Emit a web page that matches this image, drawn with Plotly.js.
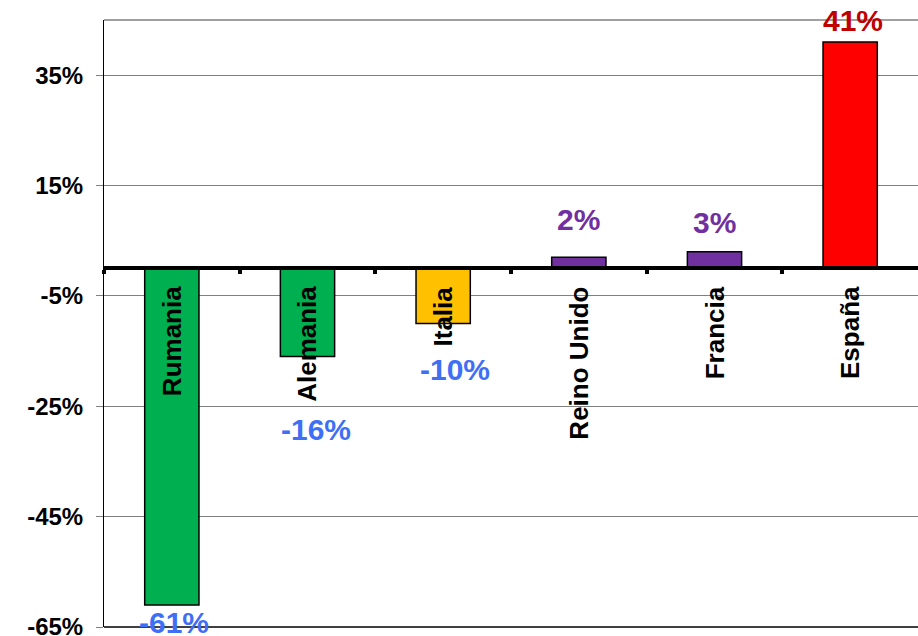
<!DOCTYPE html>
<html>
<head>
<meta charset="utf-8">
<script src="https://cdn.plot.ly/plotly-3.0.1.min.js"></script>
<style>html,body{margin:0;padding:0;background:#fff;}#chart{width:918px;height:636px;}</style>
</head>
<body>
<div id="chart"></div>
<script>
const categories = ["Rumania", "Alemania", "Italia", "Reino Unido", "Francia", "España"];
const values = [-61, -16, -10, 2, 3, 41];
const tickValues = [-65, -45, -25, -5, 15, 35];
const tickLabels = ["-65%", "-45%", "-25%", "-5%", "15%", "35%"];

// styling
const barColors = ["#00B050", "#00B050", "#FFC000", "#7030A0", "#7030A0", "#FF0000"];
const labelColors = ["#3F6FF5", "#3F6FF5", "#3F6FF5", "#7030A0", "#7030A0", "#C00000"];
const labelShift = [-18, -73, -46, 38, 29, 22];
const labelXShift = [2, 8, 12, 0, 0, 3];
const FONT = "Arial, 'Liberation Sans', sans-serif";

const xIdx = categories.map((c, i) => i);

const trace = {
  type: "bar",
  x: xIdx,
  y: values,
  width: 0.4,
  marker: {color: barColors, line: {color: "#000", width: 1.5}},
  hoverinfo: "none"
};

const annotations = [];
categories.forEach((c, i) => {
  annotations.push({
    x: i, y: 0, xref: "x", yref: "y",
    text: c, showarrow: false, textangle: -90,
    xanchor: "center", yanchor: "top", yshift: -16,
    font: {family: FONT, size: 26, color: "#000", weight: "bold"}
  });
  annotations.push({
    x: i, y: values[i], xref: "x", yref: "y",
    text: values[i] + "%", showarrow: false,
    xanchor: "center", yanchor: "middle", yshift: labelShift[i], xshift: labelXShift[i],
    font: {family: FONT, size: 30, color: labelColors[i], weight: "bold"}
  });
});

const layout = {
  width: 918, height: 636,
  margin: {l: 104, r: 0, t: 20, b: 9},
  paper_bgcolor: "#fff", plot_bgcolor: "#fff",
  showlegend: false,
  bargap: 0.6,
  xaxis: {
    range: [-0.5, 5.5],
    anchor: "free",
    position: 65 / 110,
    showline: true, linecolor: "#000", linewidth: 4,
    tickvals: [-0.5, 0.5, 1.5, 2.5, 3.5, 4.5],
    ticktext: ["", "", "", "", "", ""],
    ticks: "outside", ticklen: 4, tickwidth: 4, tickcolor: "#000",
    showgrid: false, zeroline: false, fixedrange: true
  },
  yaxis: {
    range: [-65, 45],
    tickvals: tickValues, ticktext: tickLabels,
    showgrid: true, gridcolor: "#808080", gridwidth: 1,
    zeroline: false,
    showline: true, linecolor: "#000", linewidth: 1,
    ticks: "outside", ticklen: 7, tickcolor: "#808080",
    ticklabelstandoff: 8,
    ticklabeloverflow: "allow",
    tickfont: {family: FONT, size: 24, color: "#000", weight: "bold"},
    fixedrange: true
  },
  shapes: [
    {type: "line", xref: "paper", yref: "paper", x0: 0, x1: 1, y0: 1, y1: 1, line: {color: "#808080", width: 1.5}},
    {type: "line", xref: "paper", yref: "paper", x0: 0, x1: 1, y0: 0, y1: 0, line: {color: "#000", width: 1.5}}
  ],
  annotations: annotations
};

Plotly.newPlot("chart", [trace], layout, {displayModeBar: false, staticPlot: true});
</script>
</body>
</html>
